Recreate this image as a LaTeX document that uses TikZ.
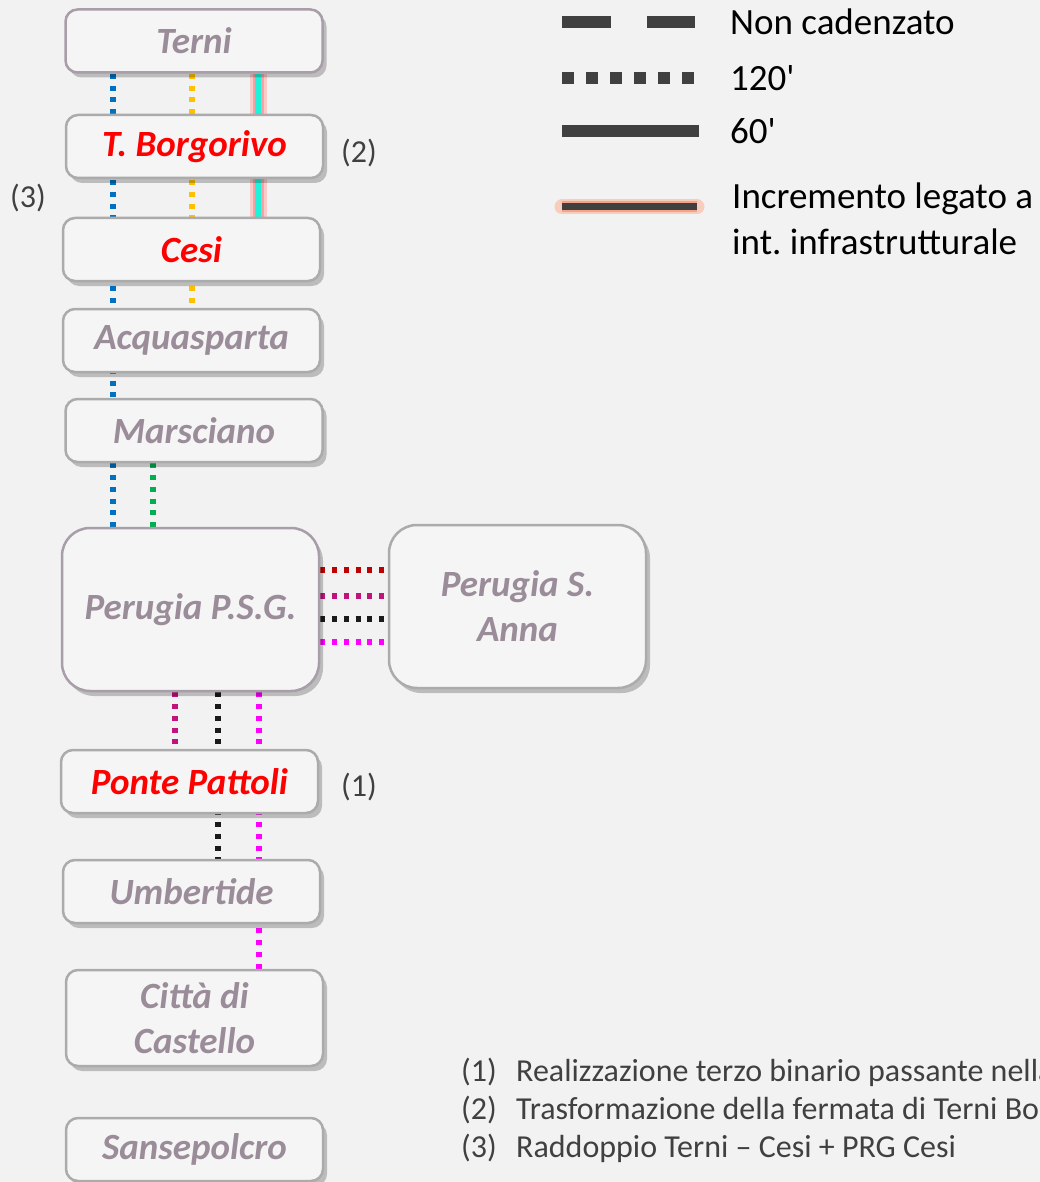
\documentclass[tikz,border=0pt]{standalone}
\usepackage{fontspec}
\setmainfont{Carlito}
\usetikzlibrary{shadows}
\definecolor{bg}{HTML}{F2F2F2}
\definecolor{boxfill}{HTML}{F5F5F5}
\definecolor{boxgray}{HTML}{ABABAB}
\definecolor{boxmauve}{HTML}{A89DA8}
\definecolor{stxt}{HTML}{9A8C99}
\definecolor{notetxt}{HTML}{404040}
\definecolor{legline}{HTML}{404040}
\definecolor{lblue}{HTML}{0070C0}
\definecolor{lyellow}{HTML}{FFC000}
\definecolor{lgreen}{HTML}{00B050}
\definecolor{lcyan}{HTML}{1EF2DA}
\definecolor{ldarkred}{HTML}{C00000}
\definecolor{lviolet}{HTML}{C0147C}
\definecolor{lblack}{HTML}{1A1A1A}
\definecolor{lmagenta}{HTML}{FF00FF}
\definecolor{glowA}{HTML}{F9CACA}
\definecolor{glowB}{HTML}{F3A4A4}
\definecolor{salA}{HTML}{F8CDBE}
\definecolor{salB}{HTML}{F2A388}
\pgfdeclarelayer{back}
\pgfdeclarelayer{lines}
\pgfsetlayers{back,lines,main}
\frenchspacing
\begin{document}
\begin{tikzpicture}[x=1pt,y=-1pt,
  station/.style={draw=boxgray, line width=2.5pt, fill=boxfill, rounded corners=12pt,
    minimum width=257pt, minimum height=63pt, inner sep=0pt,
    font=\fontsize{37}{45}\selectfont\bfseries\itshape, text=stxt, align=center,
    drop shadow={shadow xshift=4pt, shadow yshift=-5pt, fill=black, opacity=.22}},
  bigstation/.style={station, rounded corners=28pt, minimum height=163pt},
  redtext/.style={text=red},
  mauve/.style={draw=boxmauve},
  dots/.style={line width=5.5pt, dash pattern=on 5pt off 6.8pt},
  legdash/.style={line width=12pt, color=legline, dash pattern=on 49pt off 36pt},
  legdots/.style={line width=12pt, color=legline, dash pattern=on 12pt off 12pt},
  legsolid/.style={line width=12pt, color=legline},
  legtext/.style={anchor=west, inner sep=0pt, font=\fontsize{37}{46}\selectfont, text=black, align=left},
  notetext/.style={anchor=west, inner sep=0pt, font=\fontsize{32}{32}\selectfont, text=notetxt},
  footnote/.style={notetext, anchor=base west},
]
\useasboundingbox (0,0) rectangle (1040,1182);
\clip (0,0) rectangle (1040,1182);
\begin{pgfonlayer}{back}
\fill[bg] (0,0) rectangle (1040,1182);
\end{pgfonlayer}

% stations
\node[station, mauve] (terni) at (194,41) {Terni};
\node[station, redtext] (borg) at (194.5,146.5) {T. Borgorivo};
\node[station, redtext] (cesi) at (191.5,249.5) {Cesi};
\node[station] (acqua) at (191.5,340.5) {Acquasparta};
\node[station] (mars) at (194,430.5) {Marsciano};
\node[bigstation, mauve] (psg) at (190.5,609.5) {Perugia P.S.G.};
\node[bigstation] (sanna) at (517.5,606.5) {Perugia S.\\Anna};
\node[station, redtext] (ponte) at (189.5,781.5) {Ponte Pattoli};
\node[station] (umb) at (191.5,891.5) {Umbertide};
\node[station, minimum height=96pt] (citta) at (194.5,1018) {Città di\\Castello};
\node[station] (sans) at (194.5,1149.5) {Sansepolcro};

% x positions of lines
\coordinate (xblue) at (113,0);
\coordinate (xyel) at (192,0);
\coordinate (xcyan) at (258,0);
\coordinate (xgreen) at (153,0);
\coordinate (xviol) at (175,0);
\coordinate (xblk) at (218,0);
\coordinate (xmag) at (259,0);
\coordinate (ydr) at (0,570);
\coordinate (yvi) at (0,596);
\coordinate (ybk) at (0,619);
\coordinate (ymg) at (0,642);

\begin{pgfonlayer}{lines}
\draw[dots, lblue] (terni.south -| xblue) -- (psg.north -| xblue);
\draw[dots, lyellow] (terni.south -| xyel) -- (acqua.north -| xyel);
\draw[line width=17pt, glowA] (terni.south -| xcyan) -- (cesi.north -| xcyan);
\draw[line width=11pt, glowB] (terni.south -| xcyan) -- (cesi.north -| xcyan);
\draw[line width=6pt, lcyan] (terni.south -| xcyan) -- (cesi.north -| xcyan);
\draw[dots, lgreen] (mars.south -| xgreen) -- (psg.north -| xgreen);
\draw[dots, ldarkred] (psg.east |- ydr) -- (sanna.west |- ydr);
\draw[dots, lviolet] (psg.east |- yvi) -- (sanna.west |- yvi);
\draw[dots, lblack] (psg.east |- ybk) -- (sanna.west |- ybk);
\draw[dots, lmagenta] (psg.east |- ymg) -- (sanna.west |- ymg);
\draw[dots, lviolet] (psg.south -| xviol) -- (ponte.north -| xviol);
\draw[dots, lblack] (psg.south -| xblk) -- (umb.north -| xblk);
\draw[dots, lmagenta] (psg.south -| xmag) -- (citta.north -| xmag);
\end{pgfonlayer}

% labels
\node[notetext, anchor=center] (l2) at (359,153) {(2)};
\node[notetext, anchor=center] (l3) at (28,198) {(3)};
\node[notetext, anchor=center] (l1) at (359,787) {(1)};

% legend
\coordinate (ld1) at (562,22);
\coordinate (ld2) at (695,22);
\coordinate (lp1) at (562,78);
\coordinate (lp2) at (697,78);
\coordinate (ls1) at (562,131);
\coordinate (ls2) at (699,131);
\coordinate (li1) at (562,207);
\coordinate (li2) at (697,207);
\draw[legdash] (ld1) -- (ld2);
\draw[legdots] (lp1) -- (lp2);
\draw[legsolid] (ls1) -- (ls2);
\draw[line width=15pt, salA, line cap=round] (li1) -- (li2);
\draw[line width=11pt, salB] (li1) -- (li2);
\draw[line width=7pt, legline] (li1) -- (li2);
\node[legtext] (t1) at (730,22) {Non cadenzato};
\node[legtext] (t2) at (730,78) {120\textquotesingle};
\node[legtext] (t3) at (730,131) {60\textquotesingle};
\node[legtext] (t4) at (732,219) {Incremento legato a\\int. infrastrutturale};

% notes
\node[footnote] (n1) at (461,1081) {(1)};
\node[footnote] (n2) at (461,1119) {(2)};
\node[footnote] (n3) at (461,1157) {(3)};
\node[footnote] (m1) at (516,1081) {Realizzazione terzo binario passante nella};
\node[footnote] (m2) at (516,1119) {Trasformazione della fermata di Terni Bor};
\node[footnote] (m3) at (516,1157) {Raddoppio Terni – Cesi + PRG Cesi};
\end{tikzpicture}
\end{document}
